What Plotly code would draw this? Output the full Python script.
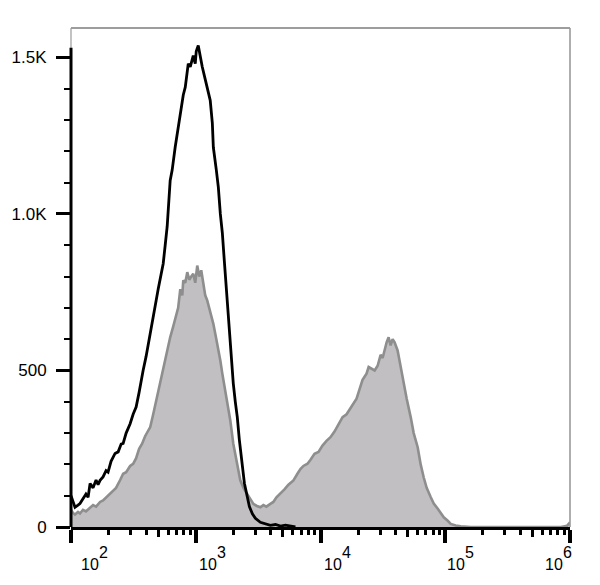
import plotly.graph_objects as go
import numpy as np

# ---- data (x as log10 of intensity, y as event count) ----
black_log10_x = [2.000, 2.016, 2.032, 2.056, 2.072, 2.096, 2.120, 2.137, 2.153, 2.177,
                 2.201, 2.217, 2.233, 2.257, 2.281, 2.297, 2.321, 2.353, 2.378, 2.402,
                 2.418, 2.442, 2.474, 2.498, 2.522, 2.546, 2.562, 2.578, 2.602, 2.618,
                 2.635, 2.659, 2.683, 2.699, 2.715, 2.739, 2.755, 2.771, 2.795, 2.811,
                 2.835, 2.859, 2.876, 2.900, 2.916, 2.932, 2.940, 2.956, 2.972, 2.980,
                 2.996, 3.004, 3.020, 3.036, 3.052, 3.076, 3.100, 3.116, 3.133, 3.141,
                 3.165, 3.181, 3.197, 3.213, 3.229, 3.245, 3.261, 3.277, 3.293, 3.301,
                 3.317, 3.333, 3.349, 3.373, 3.390, 3.414, 3.430, 3.454, 3.478, 3.518,
                 3.558, 3.598, 3.639, 3.679, 3.719, 3.759, 3.799]
black_counts = [100, 80, 63, 70, 75, 90, 105, 95, 139, 125,
                150, 135, 149, 160, 180, 175, 210, 235, 240, 265,
                267, 300, 330, 360, 383, 430, 470, 500, 545, 580,
                606, 660, 724, 760, 798, 841, 900, 960, 1107, 1140,
                1213, 1280, 1320, 1380, 1405, 1460, 1480, 1470, 1500, 1506,
                1480, 1520, 1538, 1500, 1470, 1430, 1390, 1363, 1290, 1213,
                1140, 1086, 1000, 940, 850, 760, 680, 586, 510, 458,
                400, 351, 280, 191, 140, 95, 65, 42, 28, 15,
                10, 5, 8, 3, 6, 2, 0]

gray_log10_x = [2.000, 2.016, 2.032, 2.056, 2.072, 2.096, 2.120, 2.153, 2.177, 2.201,
                2.233, 2.257, 2.281, 2.313, 2.337, 2.361, 2.394, 2.418, 2.442, 2.474,
                2.498, 2.522, 2.546, 2.570, 2.594, 2.618, 2.635, 2.659, 2.683, 2.699,
                2.715, 2.739, 2.763, 2.779, 2.795, 2.819, 2.843, 2.859, 2.876, 2.892,
                2.900, 2.916, 2.932, 2.948, 2.964, 2.980, 2.996, 3.012, 3.028, 3.044,
                3.060, 3.076, 3.092, 3.116, 3.141, 3.165, 3.181, 3.197, 3.213, 3.229,
                3.253, 3.277, 3.301, 3.325, 3.341, 3.357, 3.382, 3.414, 3.438, 3.462,
                3.486, 3.518, 3.542, 3.566, 3.598, 3.622, 3.647, 3.679, 3.711, 3.743,
                3.783, 3.815, 3.839, 3.863, 3.896, 3.920, 3.952, 3.984, 4.016, 4.048,
                4.080, 4.112, 4.145, 4.177, 4.209, 4.241, 4.265, 4.289, 4.305, 4.321,
                4.337, 4.353, 4.369, 4.386, 4.410, 4.434, 4.458, 4.482, 4.498, 4.514,
                4.530, 4.546, 4.562, 4.578, 4.594, 4.618, 4.643, 4.667, 4.691, 4.723,
                4.747, 4.779, 4.803, 4.827, 4.851, 4.884, 4.908, 4.940, 4.964, 4.988,
                5.020, 5.044, 5.084, 5.124, 5.205, 5.928, 5.976, 6.000]
gray_counts = [55, 45, 40, 48, 43, 55, 50, 63, 70, 65,
               80, 85, 95, 105, 117, 125, 150, 170, 175, 195,
               202, 220, 250, 266, 290, 305, 319, 360, 404, 440,
               470, 511, 550, 580, 606, 640, 681, 700, 760, 740,
               788, 780, 814, 790, 800, 809, 780, 835, 800, 820,
               780, 740, 724, 690, 649, 600, 570, 532, 490, 450,
               404, 340, 266, 210, 175, 149, 125, 106, 90, 74,
               68, 63, 70, 65, 74, 80, 95, 106, 120, 135,
               149, 170, 185, 195, 202, 215, 234, 240, 260, 275,
               287, 305, 330, 351, 360, 380, 394, 410, 430, 447,
               470, 480, 490, 511, 505, 500, 515, 550, 540, 570,
               590, 606, 580, 600, 590, 564, 510, 458, 410, 351,
               300, 255, 200, 159, 125, 95, 75, 58, 45, 31,
               20, 10, 5, 2, 0, 0, 4, 15]

x_decades = [2, 3, 4, 5, 6]
x_label_base = ["10", "10", "10", "10", "10"]
x_label_exp = ["2", "3", "4", "5", "6"]
y_major = [0, 500, 1000, 1500]
y_major_text = ["0", "500", "1.0K", "1.5K"]
y_minor = [100, 200, 300, 400, 600, 700, 800, 900, 1100, 1200, 1300, 1400]
y_max = 1594
y_axis_top = 1531

black_x = np.power(10.0, black_log10_x)
gray_x = np.power(10.0, gray_log10_x)

x_major = [10.0 ** d for d in x_decades]
x_minor = [m * 10.0 ** d for d in x_decades[:-1] for m in (2, 3, 4, 6, 7, 8, 9)]
x_mid = [5 * 10.0 ** d for d in x_decades[:-1]]

FONT = "Liberation Sans, Arial, sans-serif"

fig = go.Figure()
fig.add_trace(go.Scatter(
    x=gray_x, y=gray_counts, mode="lines", fill="tozeroy",
    fillcolor="#c1bfc1", line=dict(color="#8e8e8e", width=2.6),
    hoverinfo="skip", showlegend=False))
fig.add_trace(go.Scatter(
    x=black_x, y=black_counts, mode="lines",
    line=dict(color="#000000", width=2.8),
    hoverinfo="skip", showlegend=False))
# invisible trace so the mid-tick overlay axis is drawn
fig.add_trace(go.Scatter(
    x=[x_major[1]], y=[0], mode="markers", marker=dict(opacity=0),
    xaxis="x2", hoverinfo="skip", showlegend=False))

# the page body adds an 8px margin, so the figure is 16px smaller than the window
fig.update_layout(
    template="none",
    width=584, height=569,
    margin=dict(l=63, r=22, t=20, b=50, autoexpand=False),
    paper_bgcolor="white", plot_bgcolor="white",
    font=dict(family=FONT, size=16, color="black"),
    xaxis=dict(
        type="log", range=[x_decades[0], x_decades[-1]], automargin=False,
        showgrid=False, zeroline=False,
        showline=True, linecolor="black", linewidth=3,
        tickmode="array", tickvals=x_major, showticklabels=False,
        ticks="outside", ticklen=13, tickwidth=4, tickcolor="black",
        minor=dict(tickmode="array", tickvals=x_minor + x_mid, ticks="outside",
                   ticklen=5, tickwidth=2.5, tickcolor="black", showgrid=False),
    ),
    xaxis2=dict(
        type="log", range=[x_decades[0], x_decades[-1]], overlaying="x",
        anchor="y", side="bottom", automargin=False,
        showgrid=False, zeroline=False, showline=False,
        tickmode="array", tickvals=x_mid, showticklabels=False,
        ticks="outside", ticklen=9, tickwidth=2.5, tickcolor="black",
    ),
    yaxis=dict(
        range=[0, y_max], automargin=False,
        showgrid=False, zeroline=False, showline=False,
        tickmode="array", tickvals=y_major, ticktext=y_major_text,
        ticks="outside", ticklen=14, tickwidth=3, tickcolor="black",
        ticklabelstandoff=6,
        tickfont=dict(family=FONT, size=17, color="black"),
        minor=dict(tickmode="array", tickvals=y_minor, ticks="outside",
                   ticklen=6, tickwidth=2, tickcolor="black", showgrid=False),
    ),
)

# frame (thin) and the heavy left axis line
fig.add_shape(type="line", xref="paper", yref="paper", x0=0, x1=1, y0=1, y1=1,
              line=dict(color="#3c3c3c", width=1.2))
fig.add_shape(type="line", xref="paper", yref="paper", x0=1, x1=1, y0=0, y1=1,
              line=dict(color="#9a9a9a", width=1.6))
fig.add_shape(type="line", xref="paper", yref="paper", x0=0, x1=0, y0=0, y1=1,
              line=dict(color="#9a9a9a", width=1.2))
fig.add_shape(type="line", xref="paper", yref="y", x0=0, x1=0, y0=0, y1=y_axis_top,
              line=dict(color="black", width=3))

# x tick labels: 10^n with full-size exponent
base_shift = [9, 2, 2, 1, -26]
for d, b, e, s in zip(x_decades, x_label_base, x_label_exp, base_shift):
    fig.add_annotation(x=d, xref="x", y=0, yref="paper", text=b, showarrow=False,
                       xanchor="left", yanchor="middle", xshift=s - 1, yshift=-37,
                       font=dict(family=FONT, size=16, color="black"))
    fig.add_annotation(x=d, xref="x", y=0, yref="paper", text=e, showarrow=False,
                       xanchor="left", yanchor="middle", xshift=s + 17, yshift=-25,
                       font=dict(family=FONT, size=16, color="black"))

fig.write_html("out.html")
